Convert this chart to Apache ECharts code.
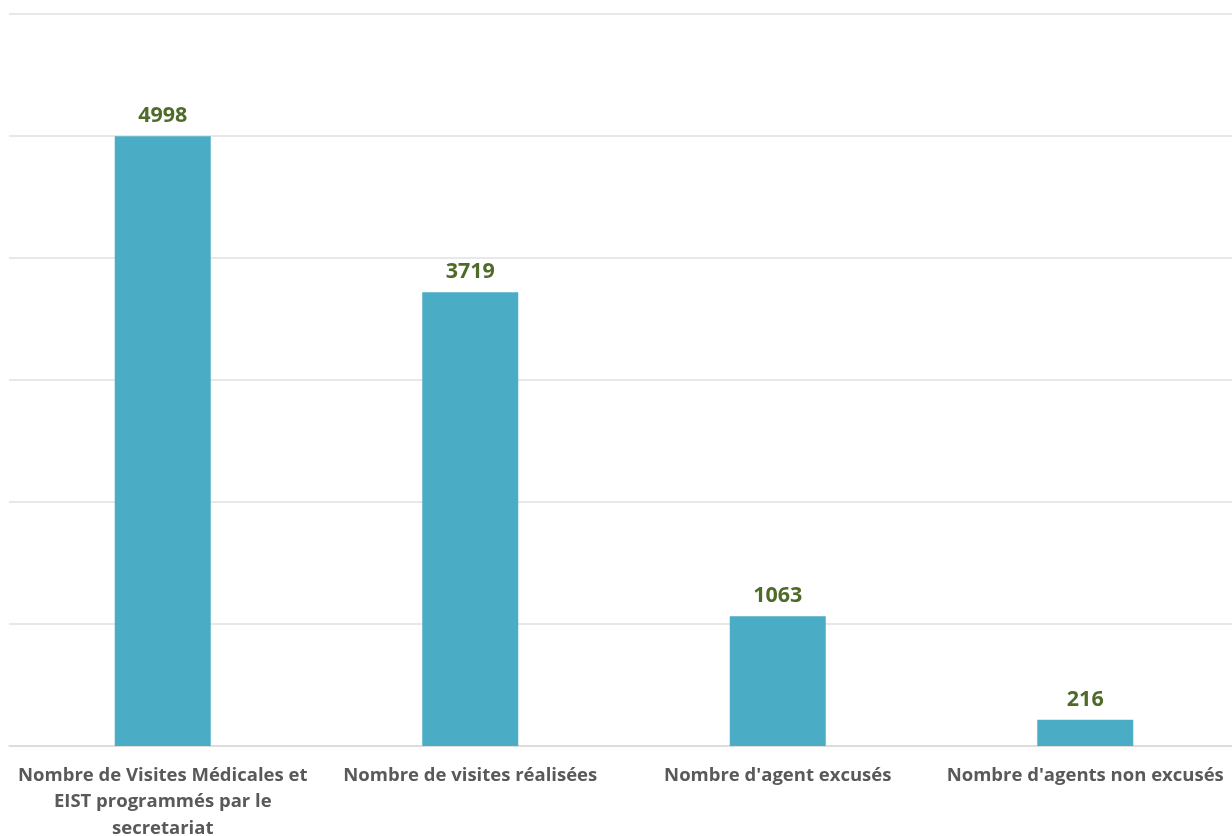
<!DOCTYPE html>
<html>
<head>
<meta charset="utf-8">
<script src="https://cdn.jsdelivr.net/npm/echarts@6/dist/echarts.min.js"></script>
<style>
  html, body { margin: 0; padding: 0; background: #ffffff; }
  #chart { width: 1232px; height: 836px; }
</style>
</head>
<body>
<div id="chart"></div>
<script>
// Visit counts by category
const categories = [
  "Nombre de Visites Médicales et\nEIST programmés par le\nsecretariat",
  "Nombre de visites réalisées",
  "Nombre d'agent excusés",
  "Nombre d'agents non excusés"
];
const values = [4998, 3719, 1063, 216];
const yMin = 0;
const yMax = 6000;
const yStep = 1000;

const chart = echarts.init(document.getElementById('chart'));
chart.setOption({
  animation: false,
  backgroundColor: '#ffffff',
  grid: { left: 9, right: -7, top: 14, bottom: 90, containLabel: false, outerBoundsMode: 'none' },
  xAxis: {
    type: 'category',
    data: categories,
    axisLine: { show: true, lineStyle: { color: '#d9d9d9', width: 1.5 } },
    axisTick: { show: false },
    axisLabel: {
      interval: 0,
      margin: 16,
      color: '#595959',
      fontFamily: 'Open Sans',
      fontWeight: 'bold',
      fontSize: 18.5,
      lineHeight: 26.5,
      align: 'center',
      hideOverlap: false
    }
  },
  yAxis: {
    type: 'value',
    min: yMin,
    max: yMax,
    interval: yStep,
    axisLabel: { show: false },
    axisLine: { show: false },
    axisTick: { show: false },
    splitLine: { show: true, lineStyle: { color: '#e0e0e0', width: 1.5 } }
  },
  series: [{
    type: 'bar',
    data: values,
    barWidth: 96,
    itemStyle: { color: '#4bacc6' },
    label: {
      show: true,
      position: 'top',
      distance: 9,
      color: '#4f6b2a',
      fontFamily: 'Open Sans',
      fontWeight: 'bold',
      fontSize: 21.5
    }
  }]
});
</script>
</body>
</html>
